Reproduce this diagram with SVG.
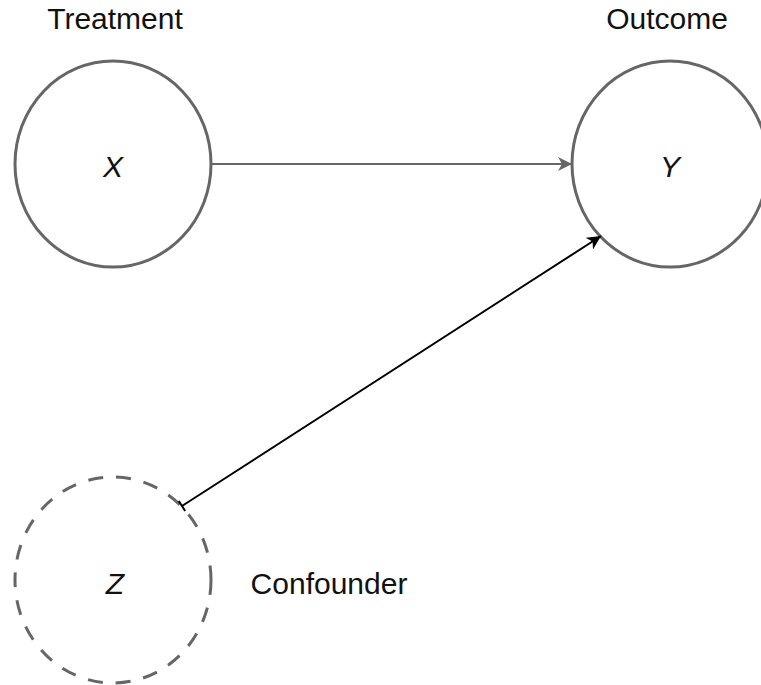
<svg xmlns="http://www.w3.org/2000/svg" width="761" height="685" viewBox="0 0 761 685">
  <style>
    .node { fill: #ffffff; stroke: #666666; stroke-width: 3; }
    .dashed { stroke-dasharray: 15 13; }
    .label { font-family: "Liberation Sans", Arial, Helvetica, sans-serif; font-size: 30px; fill: #111111; text-anchor: middle; }
    .var { font-style: italic; }
    .edge { fill: none; stroke-width: 2; }
  </style>
  <defs>
    <marker id="arrowGray" markerUnits="userSpaceOnUse" markerWidth="16" markerHeight="14" refX="14" refY="7" orient="auto">
      <path d="M0,0 L14,7 L0,14 L4,7 Z" fill="#666666"/>
    </marker>
    <marker id="arrowBlack" markerUnits="userSpaceOnUse" markerWidth="16" markerHeight="14" refX="14" refY="7" orient="auto">
      <path d="M0,0 L14,7 L0,14 L4,7 Z" fill="#000000"/>
    </marker>
  </defs>

  <g id="node-x">
    <ellipse class="node" cx="113" cy="164" rx="98" ry="103"/>
    <text class="label var" x="113" y="177">X</text>
    <text class="label" x="115" y="29">Treatment</text>
  </g>

  <g id="node-y">
    <ellipse class="node" cx="670" cy="164" rx="98" ry="103"/>
    <text class="label var" x="670" y="177">Y</text>
    <text class="label" x="667" y="29">Outcome</text>
  </g>

  <g id="node-z">
    <ellipse class="node dashed" cx="113" cy="580" rx="98" ry="103"/>
    <text class="label var" x="115" y="594">Z</text>
    <text class="label" x="329" y="594">Confounder</text>
  </g>

  <!-- edges drawn on top so the start bar sits over the Z outline -->
  <g id="connectors">
    <path class="edge" d="M211,164 L572,164" stroke="#666666" marker-end="url(#arrowGray)"/>
    <path class="edge" d="M182,506 L601,236" stroke="#000000" marker-end="url(#arrowBlack)"/>
    <path class="edge" d="M178.8,501 L185.2,511" stroke="#000000" stroke-width="2.5"/>
  </g>
</svg>
